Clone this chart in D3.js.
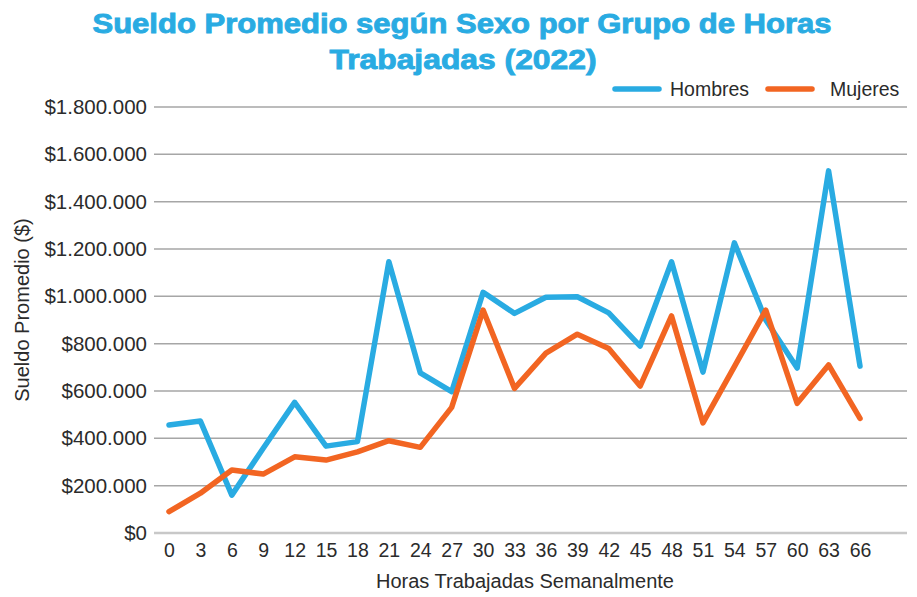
<!DOCTYPE html>
<html>
<head>
	<meta charset="utf-8" />
	<title>Sueldo Promedio según Sexo</title>
	<script src="https://d3js.org/d3.v7.min.js"></script>
</head>
<style>
	body { margin: 0; background: #fff; }
	text { font-family: 'Liberation Sans', Arial, sans-serif; fill: #2b2b2b; }
	.title { font-weight: bold; fill: #29abe2; stroke: #29abe2; stroke-width: 0.9px; font-size: 28px; }
	.grid line { stroke: #a6a6a6; stroke-width: 1.5px; }
</style>
<body>
	<script>
		// data
		var hours = [0, 3, 6, 9, 12, 15, 18, 21, 24, 27, 30, 33, 36, 39, 42, 45, 48, 51, 54, 57, 60, 63, 66];
		var hombres = [456000, 473000, 160000, 358000, 552000, 367000, 386000, 1146000, 677000, 597000, 1017000, 928000,
			996000, 998000, 930000, 790000, 1146000, 680000, 1226000, 900000, 697000, 1530000, 705000];
		var mujeres = [90000, 168000, 266000, 249000, 322000, 308000, 343000, 390000, 362000, 531000, 942000, 611000,
			760000, 840000, 780000, 621000, 917000, 465000, 703000, 942000, 548000, 710000, 484000];
		var yTicks = [0, 200000, 400000, 600000, 800000, 1000000, 1200000, 1400000, 1600000, 1800000];
		var seriesNames = ["Hombres", "Mujeres"];
		var colors = ["#29abe2", "#f26522"];

		var width = 917, height = 597;
		var svg = d3.select("body").append("svg")
			.attr("width", width)
			.attr("height", height);

		var x = d3.scaleLinear().domain([0, 66]).range([169, 860]);
		var y = d3.scaleLinear().domain([0, 1800000]).range([533, 107]);

		// format $1.800.000
		var fmt = function(v) {
			return "$" + d3.format(",")(v).replace(/,/g, ".");
		};

		// title
		svg.append("text").attr("class", "title")
			.attr("x", 462).attr("y", 33)
			.attr("text-anchor", "middle")
			.attr("textLength", 739).attr("lengthAdjust", "spacingAndGlyphs")
			.text("Sueldo Promedio según Sexo por Grupo de Horas");
		svg.append("text").attr("class", "title")
			.attr("x", 463).attr("y", 69)
			.attr("text-anchor", "middle")
			.attr("textLength", 267).attr("lengthAdjust", "spacingAndGlyphs")
			.text("Trabajadas (2022)");

		// grid lines
		svg.append("g").attr("class", "grid")
			.selectAll("line").data(yTicks).enter().append("line")
			.attr("x1", 154).attr("x2", 907)
			.attr("y1", function(d) { return y(d); })
			.attr("y2", function(d) { return y(d); })
			.style("stroke", function(d) { return d === 0 ? "#c8c8c8" : null; })
			.style("stroke-width", function(d) { return d === 0 ? "2.5px" : null; });

		// y axis
		var yAxis = svg.append("g")
			.attr("transform", "translate(154,0)")
			.call(d3.axisLeft(y).tickValues(yTicks).tickFormat(fmt).tickSize(0).tickPadding(7));
		yAxis.select(".domain").remove();
		yAxis.selectAll("text").style("font-size", "20.5px").style("font-family", null);

		// x axis
		var xAxis = svg.append("g")
			.attr("transform", "translate(0,533)")
			.call(d3.axisBottom(x).tickValues(hours).tickSize(0).tickPadding(10));
		xAxis.select(".domain").remove();
		xAxis.selectAll("text").style("font-size", "19.5px").style("font-family", null);

		// axis titles
		svg.append("text")
			.attr("x", 525).attr("y", 588)
			.attr("text-anchor", "middle")
			.style("font-size", "20px")
			.text("Horas Trabajadas Semanalmente");
		svg.append("text")
			.attr("transform", "translate(29,310) rotate(-90)")
			.attr("text-anchor", "middle")
			.style("font-size", "20px")
			.text("Sueldo Promedio ($)");

		// lines
		var line = d3.line()
			.x(function(d, i) { return x(hours[i]); })
			.y(function(d) { return y(d); });
		[hombres, mujeres].forEach(function(vals, k) {
			svg.append("path")
				.datum(vals)
				.attr("fill", "none")
				.attr("stroke", colors[k])
				.attr("stroke-width", 5.5)
				.attr("stroke-linejoin", "round")
				.attr("stroke-linecap", "round")
				.attr("d", line);
		});

		// legend
		var legX = [615, 768], legTextX = [670, 830];
		var legend = svg.append("g").selectAll("g").data(seriesNames).enter().append("g");
		legend.append("line")
			.attr("x1", function(d, i) { return legX[i]; })
			.attr("x2", function(d, i) { return legX[i] + 44; })
			.attr("y1", 89).attr("y2", 89)
			.attr("stroke", function(d, i) { return colors[i]; })
			.attr("stroke-width", 5.5)
			.attr("stroke-linecap", "round");
		legend.append("text")
			.attr("x", function(d, i) { return legTextX[i]; })
			.attr("y", 95.5)
			.style("font-size", "19.5px")
			.text(function(d) { return d; });
	</script>
</body>
</html>
